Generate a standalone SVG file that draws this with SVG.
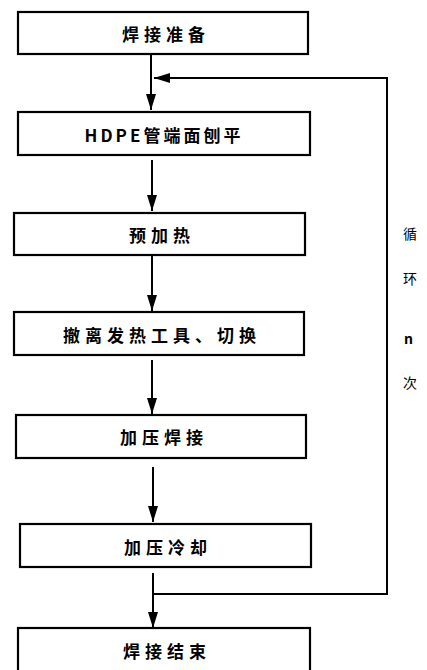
<svg xmlns="http://www.w3.org/2000/svg" width="427" height="670" viewBox="0 0 427 670">
<style>
.box{fill:#fff;stroke:#000;stroke-width:2.2}
.lbl{font-family:"Noto Sans CJK SC","Liberation Serif",serif;font-size:17px;font-weight:bold;text-anchor:middle;dominant-baseline:central;fill:#000;letter-spacing:5px}
.side{font-family:"Noto Sans CJK SC","Liberation Sans",sans-serif;font-size:14px;fill:#000}
.ln{stroke:#000;stroke-width:2;fill:none}
</style>
<defs>
<marker id="ah" markerWidth="16" markerHeight="10" refX="16" refY="5" orient="auto" markerUnits="userSpaceOnUse" viewBox="0 0 16 10">
<path d="M0,0 L16,5 L0,10 Z" fill="#000"/>
</marker>
</defs>
<rect width="427" height="670" fill="#fff"/>
<g id="connectors">
<line class="ln" x1="151" y1="55" x2="151" y2="110" marker-end="url(#ah)"/>
<polyline class="ln" points="152,594 387,594 387,78 154,78" marker-end="url(#ah)"/>
<line class="ln" x1="152" y1="160" x2="152" y2="211" marker-end="url(#ah)"/>
<line class="ln" x1="152" y1="255" x2="152" y2="311" marker-end="url(#ah)"/>
<line class="ln" x1="152" y1="360" x2="152" y2="414" marker-end="url(#ah)"/>
<line class="ln" x1="153" y1="467" x2="153" y2="522" marker-end="url(#ah)"/>
<line class="ln" x1="153" y1="573" x2="153" y2="628" marker-end="url(#ah)"/>
</g>
<g id="n1"><rect class="box" x="18" y="12" width="290" height="42"/><text class="lbl" x="166" y="33">焊接准备</text></g>
<g id="n2"><rect class="box" x="18" y="112" width="292" height="43"/><text class="lbl" x="164" y="134" style="letter-spacing:3px">HDPE管端面刨平</text></g>
<g id="n3"><rect class="box" x="14" y="213" width="291" height="42"/><text class="lbl" x="162" y="234">预加热</text></g>
<g id="n4"><rect class="box" x="14" y="312" width="290" height="43"/><text class="lbl" x="162" y="334">撤离发热工具、切换</text></g>
<g id="n5"><rect class="box" x="16" y="415" width="290" height="43"/><text class="lbl" x="164" y="436">加压焊接</text></g>
<g id="n6"><rect class="box" x="20" y="524" width="291" height="43"/><text class="lbl" x="168" y="546">加压冷却</text></g>
<g id="n7"><rect class="box" x="18" y="628" width="292" height="44"/><text class="lbl" x="167" y="650">焊接结束</text></g>
<g id="loop-label">
<text class="side" x="403" y="239">循</text>
<text class="side" x="403" y="284">环</text>
<text class="side" x="404" y="344" font-weight="bold" font-size="17">n</text>
<text class="side" x="403" y="388">次</text>
</g>
</svg>
